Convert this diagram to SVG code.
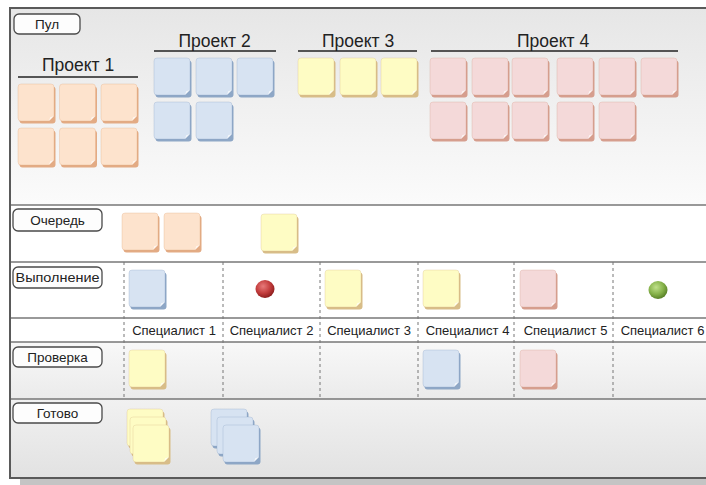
<svg xmlns="http://www.w3.org/2000/svg" xmlns:xlink="http://www.w3.org/1999/xlink" width="706" height="485" viewBox="0 0 706 485">
<defs>
<style>
.btn rect{fill:#fdfdfd;stroke:#4a4a4a;stroke-width:1.3}
.btn text{font-family:"Liberation Sans",Arial,sans-serif;font-size:13.5px;fill:#222;text-anchor:middle}
.head text{font-family:"Liberation Sans",Arial,sans-serif;font-size:17.5px;fill:#222;text-anchor:middle}
.head line{stroke:#222;stroke-width:1.3}
.spec{font-family:"Liberation Sans",Arial,sans-serif;font-size:13px;fill:#222;text-anchor:middle}
.div{stroke:#777;stroke-width:1.3}
.dash{stroke:#777;stroke-width:1;stroke-dasharray:3 3}
.o{fill:#fde3cd;color:#e3ab84}
.b{fill:#d7e3f2;color:#8ea7c6}
.y{fill:#fefcc4;color:#d8bd88}
.p{fill:#f4d9d9;color:#d69e8e}
</style>
<linearGradient id="gPool" x1="0" y1="0" x2="0" y2="1">
<stop offset="0" stop-color="#e6e6e6"/>
<stop offset="1" stop-color="#fbfbfb"/>
</linearGradient>
<linearGradient id="gRev" x1="0" y1="0" x2="0" y2="1">
<stop offset="0" stop-color="#f8f8f8"/>
<stop offset="1" stop-color="#ebebeb"/>
</linearGradient>
<linearGradient id="gDone" x1="0" y1="0" x2="0" y2="1">
<stop offset="0" stop-color="#f1f1f1"/>
<stop offset="1" stop-color="#e2e2e2"/>
</linearGradient>
<radialGradient id="gRed" cx="0.4" cy="0.35" r="0.65">
<stop offset="0" stop-color="#e87a7a"/>
<stop offset="0.6" stop-color="#c23c3c"/>
<stop offset="1" stop-color="#8e1e1e"/>
</radialGradient>
<radialGradient id="gGreen" cx="0.4" cy="0.35" r="0.65">
<stop offset="0" stop-color="#bfe08a"/>
<stop offset="0.6" stop-color="#86b24a"/>
<stop offset="1" stop-color="#5a8228"/>
</radialGradient>
<g id="note">
<rect x="1.5" y="2.5" width="36" height="37" rx="3" fill="currentColor"/>
<path d="M3,0 H33 Q36,0 36,3 V32 L31,37 H3 Q0,37 0,34 V3 Q0,0 3,0 Z" stroke="currentColor" stroke-opacity="0.45" stroke-width="0.7"/>
<path d="M36,32 L31,37 L32.2,33.2 Z" fill="#ffffff" fill-opacity="0.7"/>
</g>
</defs>

<!-- shadow and frame background -->
<rect x="20" y="479" width="686" height="6" fill="#c4c4c4"/>
<rect x="10" y="8" width="700" height="197" fill="url(#gPool)"/>
<rect x="10" y="205" width="700" height="137" fill="#ffffff"/>
<rect x="10" y="342" width="700" height="57" fill="url(#gRev)"/>
<rect x="10" y="399" width="700" height="79" fill="url(#gDone)"/>

<g id="grid">
<line class="div" x1="10" y1="205" x2="706" y2="205"/>
<line class="div" x1="10" y1="262" x2="706" y2="262"/>
<line class="div" x1="10" y1="318" x2="706" y2="318"/>
<line class="div" x1="10" y1="342" x2="706" y2="342"/>
<line class="div" x1="10" y1="399" x2="706" y2="399"/>
<line class="dash" x1="124" y1="262" x2="124" y2="399"/>
<line class="dash" x1="223" y1="262" x2="223" y2="399"/>
<line class="dash" x1="320" y1="262" x2="320" y2="399"/>
<line class="dash" x1="418" y1="262" x2="418" y2="399"/>
<line class="dash" x1="514" y1="262" x2="514" y2="399"/>
<line class="dash" x1="613" y1="262" x2="613" y2="399"/>
</g>

<rect x="10" y="8" width="710" height="470" fill="none" stroke="#5a5a5a" stroke-width="2"/>

<g id="labels">
<g id="lbl-pool" class="btn"><rect x="14" y="14" width="66" height="20" rx="5"/><text x="47" y="28.5">Пул</text></g>
<g id="lbl-queue" class="btn"><rect x="13" y="209" width="89" height="22" rx="5"/><text x="57.5" y="224.5">Очередь</text></g>
<g id="lbl-exec" class="btn"><rect x="13" y="267" width="89" height="21" rx="5"/><text x="57.5" y="282" textLength="84" lengthAdjust="spacingAndGlyphs">Выполнение</text></g>
<g id="lbl-review" class="btn"><rect x="13" y="347" width="89" height="20" rx="5"/><text x="57.5" y="361.5">Проверка</text></g>
<g id="lbl-done" class="btn"><rect x="13" y="403" width="89" height="20" rx="5"/><text x="57.5" y="417.5">Готово</text></g>
</g>

<g id="headings">
<g id="head-p1" class="head"><text x="78" y="71">Проект 1</text><line x1="18" y1="77" x2="138" y2="77"/></g>
<g id="head-p2" class="head"><text x="214.5" y="46.5">Проект 2</text><line x1="154" y1="51" x2="276" y2="51"/></g>
<g id="head-p3" class="head"><text x="358" y="46.5">Проект 3</text><line x1="298" y1="51" x2="417" y2="51"/></g>
<g id="head-p4" class="head"><text x="553" y="46.5">Проект 4</text><line x1="431" y1="51" x2="678" y2="51"/></g>
</g>

<g id="pool-p1">
<use href="#note" class="o" x="18" y="84"/>
<use href="#note" class="o" x="59.5" y="84"/>
<use href="#note" class="o" x="101" y="84"/>
<use href="#note" class="o" x="18" y="128"/>
<use href="#note" class="o" x="59.5" y="128"/>
<use href="#note" class="o" x="101" y="128"/>
</g>
<g id="pool-p2">
<use href="#note" class="b" x="154" y="58"/>
<use href="#note" class="b" x="196" y="58"/>
<use href="#note" class="b" x="237" y="58"/>
<use href="#note" class="b" x="154" y="102"/>
<use href="#note" class="b" x="196" y="102"/>
</g>
<g id="pool-p3">
<use href="#note" class="y" x="298" y="58"/>
<use href="#note" class="y" x="340" y="58"/>
<use href="#note" class="y" x="381" y="58"/>
</g>
<g id="pool-p4">
<use href="#note" class="p" x="430" y="58"/>
<use href="#note" class="p" x="472" y="58"/>
<use href="#note" class="p" x="512" y="58"/>
<use href="#note" class="p" x="557" y="58"/>
<use href="#note" class="p" x="599" y="58"/>
<use href="#note" class="p" x="641" y="58"/>
<use href="#note" class="p" x="430" y="102"/>
<use href="#note" class="p" x="472" y="102"/>
<use href="#note" class="p" x="512" y="102"/>
<use href="#note" class="p" x="557" y="102"/>
<use href="#note" class="p" x="599" y="102"/>
</g>

<g id="queue">
<use href="#note" class="o" x="122" y="213"/>
<use href="#note" class="o" x="164" y="213"/>
<use href="#note" class="y" x="261" y="214"/>
</g>

<g id="execution">
<use href="#note" class="b" x="129" y="270"/>
<ellipse cx="265" cy="289" rx="9.5" ry="9" fill="url(#gRed)"/>
<use href="#note" class="y" x="325" y="270"/>
<use href="#note" class="y" x="423" y="270"/>
<use href="#note" class="p" x="520" y="270"/>
<ellipse cx="658" cy="290" rx="9.5" ry="9" fill="url(#gGreen)"/>
</g>

<g id="specialists">
<text class="spec" x="174" y="335">Специалист 1</text>
<text class="spec" x="271.5" y="335">Специалист 2</text>
<text class="spec" x="369" y="335">Специалист 3</text>
<text class="spec" x="467.5" y="335">Специалист 4</text>
<text class="spec" x="565.5" y="335">Специалист 5</text>
<text class="spec" x="662.5" y="335">Специалист 6</text>
</g>

<g id="review">
<use href="#note" class="y" x="129" y="350"/>
<use href="#note" class="b" x="423" y="350"/>
<use href="#note" class="p" x="520" y="350"/>
</g>

<g id="done">
<use href="#note" class="y" x="127" y="409"/>
<use href="#note" class="y" x="130" y="417"/>
<use href="#note" class="y" x="133" y="425"/>
<use href="#note" class="b" x="211" y="409"/>
<use href="#note" class="b" x="217" y="417"/>
<use href="#note" class="b" x="223" y="425"/>
</g>
</svg>
